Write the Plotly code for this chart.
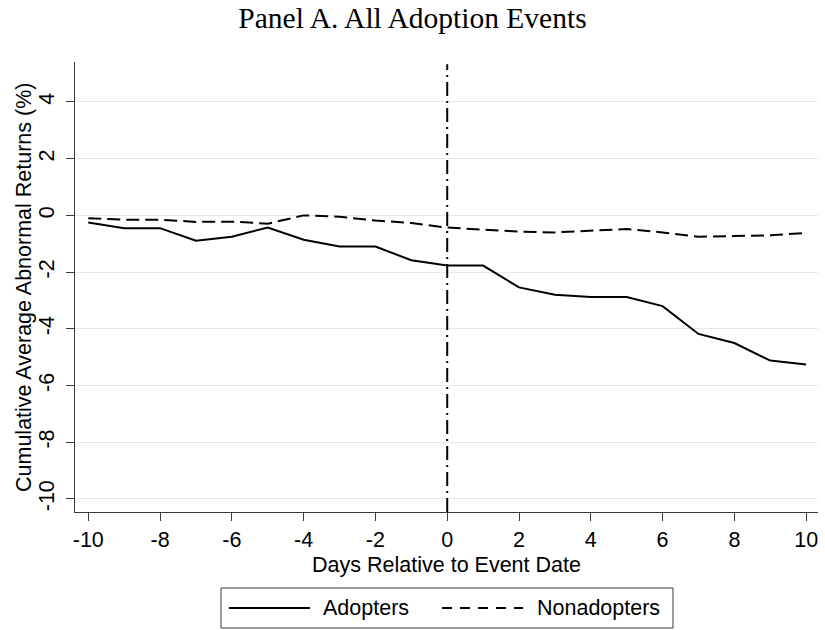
import plotly.graph_objects as go

# ---- data ----
days = list(range(-10, 11))
adopters = [-0.25, -0.45, -0.45, -0.89, -0.75, -0.43, -0.86, -1.10, -1.10, -1.58, -1.77,
            -1.77, -2.54, -2.80, -2.88, -2.88, -3.20, -4.18, -4.50, -5.12, -5.26]
nonadopters = [-0.10, -0.15, -0.15, -0.23, -0.22, -0.29, 0.00, -0.05, -0.18, -0.27, -0.43,
               -0.51, -0.57, -0.60, -0.55, -0.48, -0.60, -0.75, -0.73, -0.70, -0.62]
series_names = ["Adopters", "Nonadopters"]
x_ticks = list(range(-10, 11, 2))
y_ticks = list(range(-10, 5, 2))
x_ticktext = [str(v) for v in x_ticks]
y_ticktext = [str(v) for v in y_ticks]
event_day = 0

W, H = 825, 630
ML, MR, MT, MB = 75, 7, 62, 118
PW, PH = W - ML - MR, H - MT - MB

SANS = "Liberation Sans, Arial, sans-serif"
SERIF = "Liberation Serif, Times New Roman, serif"
FS = 21.5

fig = go.Figure()
fig.add_trace(go.Scatter(x=days, y=adopters, mode="lines", name=series_names[0],
                         line=dict(color="black", width=2), showlegend=False))
fig.add_trace(go.Scatter(x=days, y=nonadopters, mode="lines", name=series_names[1],
                         line=dict(color="black", width=2, dash="13px,6px"), showlegend=False))

# vertical event line
fig.add_shape(type="line", xref="x", yref="paper", x0=event_day, x1=event_day, y0=0, y1=0.995,
              line=dict(color="black", width=2, dash="14px,5px,2px,5px"))

# helpers: pixel position -> paper coords of the plot area
def px2x(px):
    return (px - ML) / PW

def py2y(py):
    return (H - MB - py) / PH

# y-axis title as rotated annotation
fig.add_annotation(xref="paper", yref="paper", x=px2x(24), y=py2y(287),
                   text="Cumulative Average Abnormal Returns (%)", textangle=-90,
                   showarrow=False, xanchor="center", yanchor="middle",
                   font=dict(family=SANS, size=FS, color="black"))

# manual legend
fig.add_shape(type="rect", xref="paper", yref="paper",
              x0=px2x(221), x1=px2x(673), y0=py2y(628), y1=py2y(588),
              line=dict(color="#3c3c3c", width=1), fillcolor="white")
ly = py2y(608)
fig.add_shape(type="line", xref="paper", yref="paper", x0=px2x(229), x1=px2x(310), y0=ly, y1=ly,
              line=dict(color="black", width=2))
fig.add_shape(type="line", xref="paper", yref="paper", x0=px2x(442), x1=px2x(523), y0=ly, y1=ly,
              line=dict(color="black", width=2, dash="10px,8px"))
fig.add_annotation(xref="paper", yref="paper", x=px2x(321), y=ly, text=series_names[0],
                   showarrow=False, xanchor="left", yanchor="middle",
                   font=dict(family=SANS, size=FS, color="black"))
fig.add_annotation(xref="paper", yref="paper", x=px2x(535), y=ly, text=series_names[1],
                   showarrow=False, xanchor="left", yanchor="middle",
                   font=dict(family=SANS, size=FS, color="black"))

fig.update_layout(
    width=W, height=H,
    margin=dict(l=ML, r=MR, t=MT, b=MB, pad=0, autoexpand=False),
    paper_bgcolor="white", plot_bgcolor="white",
    title=dict(text="Panel A. All Adoption Events", x=0.5, xanchor="center",
               y=1 - 18 / H, yanchor="middle", yref="container",
               font=dict(family=SERIF, size=29.5, color="black")),
    font=dict(family=SANS, size=FS, color="black"),
)
fig.update_xaxes(range=[-10.37, 10.33], tickmode="array", tickvals=x_ticks, ticktext=x_ticktext,
                 ticks="outside", ticklen=8, tickcolor="#3c3c3c", tickwidth=1,
                 showline=True, linecolor="#3c3c3c", linewidth=1, mirror=False,
                 showgrid=False, zeroline=False, automargin=False,
                 tickfont=dict(family=SANS, size=FS, color="black"),
                 title=dict(text="Days Relative to Event Date", standoff=6,
                            font=dict(family=SANS, size=FS, color="black")))
fig.update_yaxes(range=[-10.46, 5.41], tickmode="array", tickvals=y_ticks, ticktext=y_ticktext,
                 ticks="outside", ticklen=8, tickcolor="#3c3c3c", tickwidth=1,
                 tickangle=-90, ticklabelstandoff=3,
                 showline=True, linecolor="#3c3c3c", linewidth=1, mirror=False,
                 showgrid=True, gridcolor="#e8e8e8", gridwidth=1, zeroline=False,
                 automargin=False,
                 tickfont=dict(family=SANS, size=FS, color="black"))

fig.write_html("out.html", config={"displayModeBar": False},
               post_script="document.body.style.margin='0px';")
